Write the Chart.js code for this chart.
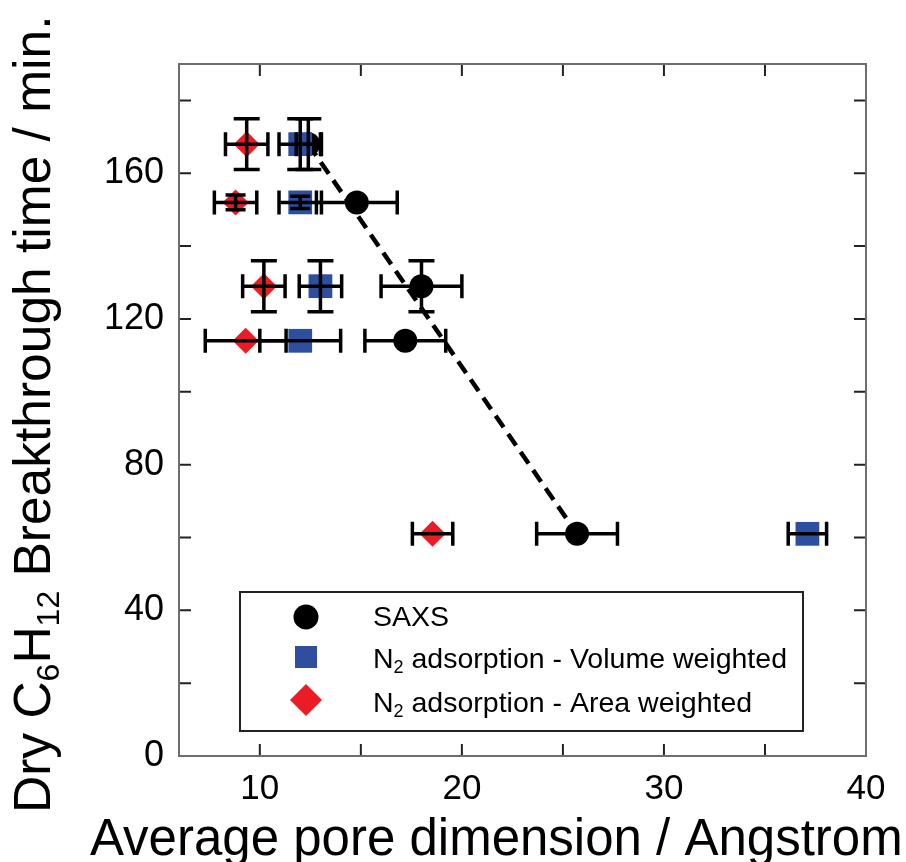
<!DOCTYPE html>
<html>
<head>
<meta charset="utf-8">
<script src="https://cdn.jsdelivr.net/npm/chart.js@4.4.0/dist/chart.umd.min.js"></script>
<style>
  html, body { margin: 0; padding: 0; background: #fff; }
  #wrap { width: 906px; height: 862px; position: relative; }
</style>
</head>
<body>
<div id="wrap"><canvas id="chart"></canvas></div>
<script>
// series names and axis titles (unicode subscripts are drawn as real subscripts)
const seriesNames = ['SAXS', 'N₂ adsorption - Volume weighted', 'N₂ adsorption - Area weighted'];
const xTitle = 'Average pore dimension / Angstrom';
const yTitle = 'Dry C₆H₁₂ Breakthrough time / min.';

// SAXS
const saxsX = [12.4, 14.8, 18.0, 17.2, 25.7];
const saxsY = [168, 152, 129, 114, 61];
const saxsXErr = [0.6, 2.0, 2.0, 2.0, 2.0];
const saxsYErr = [7, 0, 7, 0, 0];

// N2 adsorption - volume weighted
const volX = [12.0, 12.0, 13.0, 12.0, 37.1];
const volY = [168, 152, 129, 114, 61];
const volXErr = [1.05, 1.05, 1.05, 2.0, 0.95];
const volYErr = [7, 1.7, 7, 0, 0];

// N2 adsorption - area weighted
const areaX = [9.35, 8.8, 10.2, 9.3, 18.55];
const areaY = [168, 152, 129, 114, 61];
const areaXErr = [1.05, 1.05, 1.05, 2.0, 1.0];
const areaYErr = [7, 2.0, 7, 0, 0];

// dashed trend line through SAXS
const fitX = [12.4, 25.7];
const fitY = [168, 61];

// axis ticks
const xTicks = [10, 15, 20, 25, 30, 35, 40];
const xLabels = [10, 20, 30, 40];
const yTicks = [0, 20, 40, 60, 80, 100, 120, 140, 160, 180];
const yLabels = [0, 40, 80, 120, 160];

const font = '"Liberation Sans", Arial, sans-serif';
const toPts = (xs, ys) => xs.map((x, i) => ({ x: x, y: ys[i] }));

function richParts(s) {
  const subs = '₀₁₂₃₄₅₆₇₈₉';
  const parts = [];
  for (const ch of s) {
    const k = subs.indexOf(ch);
    const sub = k >= 0;
    const c = sub ? String(k) : ch;
    const last = parts[parts.length - 1];
    if (last && last.sub === sub) last.t += c;
    else parts.push({ t: c, sub: sub });
  }
  return parts;
}

function drawRich(ctx, s, x, y, size, subSize, subShift) {
  ctx.textAlign = 'left';
  ctx.textBaseline = 'alphabetic';
  let cx = x;
  for (const p of richParts(s)) {
    ctx.font = (p.sub ? subSize : size) + 'px ' + font;
    ctx.fillText(p.t, cx, y + (p.sub ? subShift : 0));
    cx += ctx.measureText(p.t).width;
  }
}

const decor = {
  id: 'decor',
  beforeDatasetsDraw(chart) {
    const ctx = chart.ctx, a = chart.chartArea;
    const xs = chart.scales.x, ys = chart.scales.y;
    ctx.save();
    // inward ticks on all four sides
    ctx.strokeStyle = '#222';
    ctx.lineWidth = 2;
    ctx.beginPath();
    xTicks.forEach(v => {
      const px = xs.getPixelForValue(v);
      ctx.moveTo(px, a.bottom); ctx.lineTo(px, a.bottom - 12);
      ctx.moveTo(px, a.top); ctx.lineTo(px, a.top + 12);
    });
    yTicks.forEach(v => {
      const py = ys.getPixelForValue(v);
      ctx.moveTo(a.left, py); ctx.lineTo(a.left + 12, py);
      ctx.moveTo(a.right, py); ctx.lineTo(a.right - 12, py);
    });
    ctx.stroke();
    // frame
    ctx.strokeStyle = '#6e6e6e';
    ctx.strokeRect(a.left, a.top, a.right - a.left, a.bottom - a.top);
    ctx.restore();
  },
  afterDatasetsDraw(chart) {
    const ctx = chart.ctx;
    const xs = chart.scales.x, ys = chart.scales.y;
    ctx.save();
    ctx.strokeStyle = '#000';
    ctx.lineWidth = 3.5;
    ctx.lineCap = 'butt';
    chart.data.datasets.forEach(ds => {
      if (!ds.errX) return;
      ds.data.forEach((p, i) => {
        const px = xs.getPixelForValue(p.x), py = ys.getPixelForValue(p.y);
        const ex = ds.errX[i], ey = ds.errY[i];
        ctx.beginPath();
        if (ex > 0) {
          const x0 = xs.getPixelForValue(p.x - ex), x1 = xs.getPixelForValue(p.x + ex);
          ctx.moveTo(x0, py); ctx.lineTo(x1, py);
          ctx.moveTo(x0, py - 12); ctx.lineTo(x0, py + 12);
          ctx.moveTo(x1, py - 12); ctx.lineTo(x1, py + 12);
        }
        if (ey > 0) {
          const y0 = ys.getPixelForValue(p.y - ey), y1 = ys.getPixelForValue(p.y + ey);
          const c = ey < 3 ? 10 : 13;
          ctx.moveTo(px, y0); ctx.lineTo(px, y1);
          ctx.moveTo(px - c, y0); ctx.lineTo(px + c, y0);
          ctx.moveTo(px - c, y1); ctx.lineTo(px + c, y1);
        }
        ctx.stroke();
      });
    });

    // legend box inside the plot
    const bx = 240, by = 592, bw = 563, bh = 139;
    ctx.fillStyle = '#fff';
    ctx.fillRect(bx, by, bw, bh);
    ctx.strokeStyle = '#222';
    ctx.lineWidth = 2;
    ctx.strokeRect(bx, by, bw, bh);
    const rows = [
      { ds: chart.data.datasets[2], r: 12.5, cy: 617, base: 626 },
      { ds: chart.data.datasets[1], r: 15.6, cy: 657, base: 668 },
      { ds: chart.data.datasets[0], r: 16, cy: 700, base: 712 }
    ];
    rows.forEach(row => {
      ctx.fillStyle = row.ds.backgroundColor;
      ctx.strokeStyle = row.ds.backgroundColor;
      Chart.helpers.drawPoint(ctx, { pointStyle: row.ds.pointStyle, radius: row.r, rotation: 0, borderWidth: 0 }, 306, row.cy);
      ctx.fillStyle = '#000';
      drawRich(ctx, row.ds.label, 373, row.base, 28.5, 18, 5);
    });
    ctx.restore();
  },
  afterDraw(chart) {
    const ctx = chart.ctx;
    ctx.save();
    ctx.fillStyle = '#000';
    drawRich(ctx, xTitle, 90, 855, 51, 32, 9);
    ctx.translate(50, 813);
    ctx.rotate(-Math.PI / 2);
    drawRich(ctx, yTitle, 0, 0, 51.5, 32, 9);
    ctx.restore();
  }
};

new Chart(document.getElementById('chart'), {
  type: 'scatter',
  data: {
    datasets: [
      {
        label: seriesNames[2],
        data: toPts(areaX, areaY),
        errX: areaXErr, errY: areaYErr,
        pointStyle: 'rectRot',
        pointRadius: 13,
        backgroundColor: '#ec1c24',
        borderColor: '#ec1c24',
        borderWidth: 0
      },
      {
        label: seriesNames[1],
        data: toPts(volX, volY),
        errX: volXErr, errY: volYErr,
        pointStyle: 'rect',
        pointRadius: 16.8,
        backgroundColor: '#2e4f9f',
        borderColor: '#2e4f9f',
        borderWidth: 0
      },
      {
        label: seriesNames[0],
        data: toPts(saxsX, saxsY),
        errX: saxsXErr, errY: saxsYErr,
        pointStyle: 'circle',
        pointRadius: 12,
        backgroundColor: '#000',
        borderColor: '#000',
        borderWidth: 0
      },
      {
        label: 'fit',
        data: toPts(fitX, fitY),
        showLine: true,
        pointRadius: 0,
        borderColor: '#000',
        borderWidth: 4.5,
        borderDash: [14, 8],
        fill: false
      }
    ]
  },
  options: {
    responsive: true,
    maintainAspectRatio: false,
    animation: false,
    events: [],
    layout: { padding: { top: 64, right: 40, left: 0, bottom: 0 } },
    plugins: { legend: { display: false }, tooltip: { enabled: false } },
    scales: {
      x: {
        type: 'linear',
        min: 6,
        max: 40,
        afterBuildTicks: s => { s.ticks = xTicks.map(v => ({ value: v })); },
        afterFit: s => { s.height = 106; },
        grid: { display: false, drawTicks: false },
        border: { display: false },
        ticks: {
          autoSkip: false,
          maxRotation: 0,
          padding: 12,
          color: '#000',
          font: { family: font, size: 35 },
          callback: v => xLabels.includes(v) ? String(v) : ''
        }
      },
      y: {
        type: 'linear',
        min: 0,
        max: 190,
        afterBuildTicks: s => { s.ticks = yTicks.map(v => ({ value: v })); },
        afterFit: s => { s.width = 179; },
        grid: { display: false, drawTicks: false },
        border: { display: false },
        ticks: {
          autoSkip: false,
          padding: 15,
          color: '#000',
          font: { family: font, size: 36 },
          callback: v => yLabels.includes(v) ? String(v) : ''
        }
      }
    }
  },
  plugins: [decor]
});
</script>
</body>
</html>
